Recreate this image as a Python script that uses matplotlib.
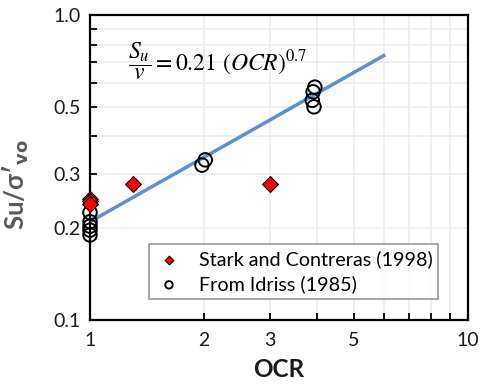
import matplotlib
matplotlib.use("Agg")
import matplotlib.pyplot as plt
from matplotlib.ticker import FixedLocator, FixedFormatter, NullFormatter
import numpy as np

# Data
stark_ocr = [1.0, 1.0, 1.0, 1.3, 3.0]
stark_su = [0.25, 0.245, 0.24, 0.28, 0.28]
idriss_ocr = [1.0, 1.0, 1.0, 1.0, 1.0, 1.98, 2.02, 3.94, 3.90, 3.88, 3.92]
idriss_su = [0.225, 0.21, 0.203, 0.197, 0.19, 0.322, 0.335, 0.58, 0.56, 0.525, 0.50]
fit_ocr = [1.0, 6.0]
fit_coef = 0.21
fit_exp = 0.7
x_ticks = [1, 2, 3, 5, 10]
x_labels = ["1", "2", "3", "5", "10"]
y_ticks = [0.1, 0.2, 0.3, 0.5, 1.0]
y_labels = ["0.1", "0.2", "0.3", "0.5", "1.0"]

plt.rcParams['font.family'] = ['Lato', 'DejaVu Sans']

fig = plt.figure(figsize=(4.8, 3.9), dpi=100)
ax = fig.add_axes([0.1875, 0.1795, 0.7865, 0.782])

ax.set_xscale('log')
ax.set_yscale('log')
ax.set_xlim(1, 10)
ax.set_ylim(0.1, 1.0)

minor_x = [2, 3, 4, 5, 6, 7, 8, 9]
minor_y = [0.2, 0.3, 0.4, 0.5, 0.6, 0.7, 0.8, 0.9]
ax.xaxis.set_major_locator(FixedLocator(x_ticks))
ax.xaxis.set_major_formatter(FixedFormatter(x_labels))
ax.xaxis.set_minor_locator(FixedLocator(minor_x))
ax.xaxis.set_minor_formatter(NullFormatter())
ax.yaxis.set_major_locator(FixedLocator(y_ticks))
ax.yaxis.set_major_formatter(FixedFormatter(y_labels))
ax.yaxis.set_minor_locator(FixedLocator(minor_y))
ax.yaxis.set_minor_formatter(NullFormatter())

for v in minor_x:
    ax.axvline(v, color='#ececec', lw=1.2, zorder=0)
for v in minor_y:
    ax.axhline(v, color='#ececec', lw=1.2, zorder=0)

ax.tick_params(which='both', direction='in', length=5, width=1.3, color='black',
               top=False, right=False, labelsize=14, labelcolor='#1a1a1a')
ax.tick_params(axis='x', which='both', pad=9)
ax.tick_params(axis='y', which='both', pad=7)
for s in ax.spines.values():
    s.set_linewidth(1.6)
    s.set_color('black')

fx = np.array(fit_ocr)
xx = np.geomspace(fx[0], fx[1], 50)
ax.plot(xx, fit_coef * xx ** fit_exp, color='#5b8fd6', lw=2.5, zorder=2)

ax.scatter(idriss_ocr, idriss_su, s=95, facecolors='none', edgecolors='black',
           linewidths=1.4, zorder=3, label='From Idriss (1985)', clip_on=False)
ax.scatter(stark_ocr, stark_su, s=65, marker='D', facecolors='#ff0000', edgecolors='black',
           linewidths=0.8, zorder=4, label='Stark and Contreras (1998)', clip_on=False)

handles, labels = ax.get_legend_handles_labels()
leg = ax.legend(handles[::-1], labels[::-1], loc='lower left', bbox_to_anchor=(0.157, 0.069),
                borderaxespad=0.0,
                fontsize=14.2, frameon=True, fancybox=False, edgecolor='#7f7f7f',
                markerscale=0.55, handletextpad=0.8, borderpad=0.3, labelspacing=0.35,
                handlelength=1.4)
leg.get_frame().set_linewidth(1.2)

ax.text(0.10, 0.85, r'$\dfrac{S_u}{v} = 0.21\ (OCR)^{0.7}$', transform=ax.transAxes,
        fontsize=17, color='black', ha='left', va='center',
        math_fontfamily='stix')

ax.set_xlabel('OCR', fontsize=17.5, fontweight='bold', color='#1a1a1a', labelpad=6)
ax.set_ylabel(r"Su/σ′$_{\mathbf{vo}}$", fontsize=18.5, fontweight='bold', color='#595959')
ax.yaxis.set_label_coords(-0.155, 0.443)

fig.savefig('out.png', dpi=100)
